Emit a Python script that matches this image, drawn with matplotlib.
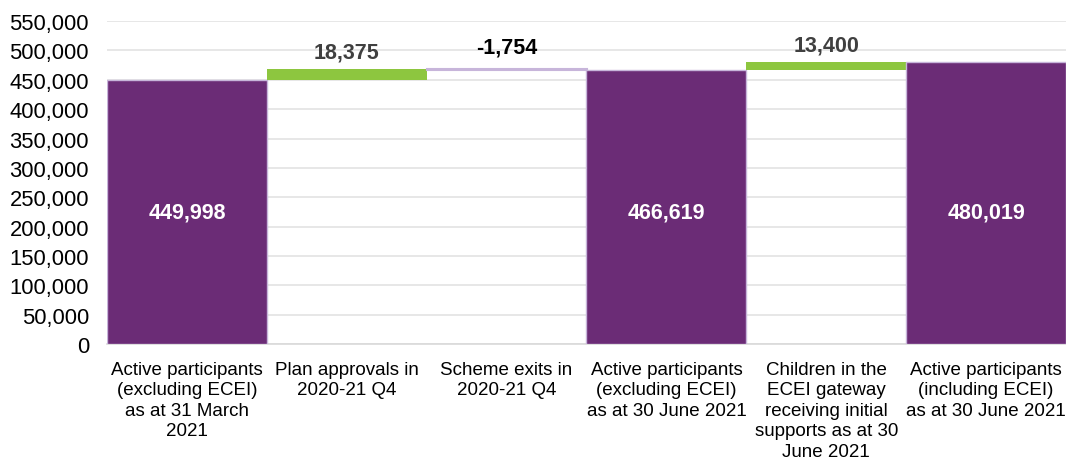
import matplotlib.pyplot as plt
import numpy as np

# === DATA ===
categories = [
    "Active participants\n(excluding ECEI)\nas at 31 March\n2021",
    "Plan approvals in\n2020-21 Q4",
    "Scheme exits in\n2020-21 Q4",
    "Active participants\n(excluding ECEI)\nas at 30 June 2021",
    "Children in the\nECEI gateway\nreceiving initial\nsupports as at 30\nJune 2021",
    "Active participants\n(including ECEI)\nas at 30 June 2021",
]
values = [449998, 18375, -1754, 466619, 13400, 480019]
is_total = [True, False, False, True, False, True]
labels = ["449,998", "18,375", "-1,754", "466,619", "13,400", "480,019"]

# === COLOURS ===
purple = "#6B2C76"
green = "#8DC63F"
edge = "#C7B5DA"

plt.rcParams['font.family'] = ['Liberation Sans', 'DejaVu Sans']

fig = plt.figure(figsize=(10.66, 4.6), dpi=100)
ax = fig.add_axes([107 / 1066, 0.25, 1 - 107 / 1066, 0.952 - 0.25])

# waterfall bottoms / heights
bottoms, heights = [], []
running = 0
for v, tot in zip(values, is_total):
    if tot:
        bottoms.append(0)
        heights.append(v)
        running = v
    else:
        if v >= 0:
            bottoms.append(running)
            heights.append(v)
        else:
            bottoms.append(running + v)
            heights.append(-v)
        running += v

x = np.arange(len(values))
for i in range(len(values)):
    if is_total[i]:
        ax.bar(x[i], heights[i], bottom=bottoms[i], width=1.0, color=purple,
               edgecolor=edge, linewidth=1, zorder=3)
    elif values[i] >= 0:
        ax.bar(x[i], heights[i], bottom=bottoms[i], width=1.0, color=green,
               edgecolor="none", zorder=3)
    else:
        ax.bar(x[i], heights[i], bottom=bottoms[i], width=1.0, color="white",
               edgecolor=edge, linewidth=1.5, zorder=3)

# labels
for i in range(len(values)):
    if is_total[i]:
        ax.text(x[i], 225000, labels[i], ha="center", va="center",
                color="white", fontsize=15.5, fontweight="bold", zorder=4)
    else:
        top = bottoms[i] + heights[i]
        col = "black" if values[i] < 0 else "#404040"
        ax.annotate(labels[i], (x[i], top), xytext=(0, 5 if values[i] >= 0 else 8.5),
                    textcoords="offset points", ha="center", va="bottom",
                    color=col, fontsize=15.5, fontweight="bold", zorder=4)

ax.set_xlim(-0.5, len(values) - 0.5)
ax.set_ylim(0, 550000)
ax.set_yticks(np.arange(0, 550001, 50000))
ax.set_yticklabels([f"{v:,}" for v in range(0, 550001, 50000)], fontsize=15.8)
ax.set_xticks(x)
ax.set_xticklabels(categories, fontsize=13.5, linespacing=1.27)
ax.tick_params(axis="both", length=0)
ax.tick_params(axis="x", pad=12)
ax.tick_params(axis="y", pad=13)

ax.grid(axis="y", color="#E3E3E3", linewidth=1.2, zorder=0)
ax.set_axisbelow(True)
for s in ["top", "right", "left"]:
    ax.spines[s].set_visible(False)
ax.spines["bottom"].set_color("#D9D9D9")
ax.spines["bottom"].set_linewidth(1.2)

fig.savefig("out.png", dpi=100)
